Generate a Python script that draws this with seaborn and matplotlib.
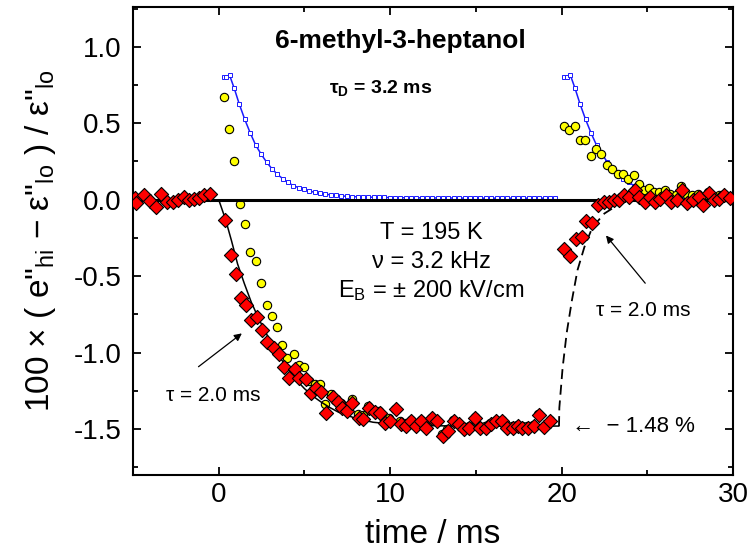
import numpy as np
import matplotlib
matplotlib.use("Agg")
import matplotlib.pyplot as plt
from matplotlib.ticker import MultipleLocator, FormatStrFormatter
import seaborn as sns

# ---- measured data -------------------------------------------------------
# red diamonds: field-on response (time in ms, 100 x relative change)
red_t = [-4.9, -4.8, -4.35, -4.0, -3.65, -3.35, -3.0, -2.65, -2.35, -2.05, -1.75, -1.45,
         -1.15, -0.85, -0.5,
         0.37, 0.69, 1.0, 1.3, 1.62, 1.9, 2.21, 2.53, 2.79, 3.2, 3.53, 3.82, 4.11, 4.46,
         4.7, 5.09, 5.38, 5.67, 5.96, 6.25, 6.64, 6.93, 7.22, 7.51, 7.8, 8.16, 8.43, 8.78,
         9.11, 9.4, 9.7, 10.0, 10.34, 10.63, 10.92, 11.21, 11.5, 11.8, 12.09, 12.42, 12.73,
         13.06, 13.35, 13.7, 13.99, 14.32, 14.62, 14.97, 15.24, 15.59, 15.88, 16.17, 16.52,
         16.79, 17.14, 17.43, 17.72, 18.02, 18.37, 18.7, 18.95, 19.32,
         20.16, 20.5, 20.84, 21.17, 21.45, 21.75, 22.15, 22.5, 22.78, 23.07, 23.37, 23.66,
         23.95, 24.28, 24.53, 24.88, 25.17, 25.47, 25.76, 26.09, 26.38, 26.73, 27.02, 27.31,
         27.64, 27.99, 28.26, 28.6, 28.9, 29.2, 29.5, 29.8]
red_y = [0.01, -0.02, 0.03, -0.01, -0.045, 0.035, -0.015, -0.015, 0.0, 0.015, 0.0, 0.005,
         0.01, 0.03, 0.035,
         -0.13, -0.36, -0.485, -0.643, -0.69, -0.785, -0.77, -0.852, -0.933, -0.97, -1.01,
         -1.097, -1.163, -1.107, -1.163, -1.173, -1.267, -1.228, -1.256, -1.392, -1.293,
         -1.32, -1.363, -1.38, -1.326, -1.425, -1.435, -1.359, -1.387, -1.392, -1.457,
         -1.446, -1.37, -1.468, -1.479, -1.446, -1.479, -1.446, -1.49, -1.43, -1.446,
         -1.545, -1.512, -1.446, -1.468, -1.5, -1.49, -1.425, -1.49, -1.49, -1.468, -1.446,
         -1.446, -1.49, -1.49, -1.479, -1.49, -1.49, -1.479, -1.407, -1.486, -1.446,
         -0.321, -0.365, -0.256, -0.245, -0.136, -0.151, -0.037, -0.015, -0.016, -0.005,
         0.0, 0.028, 0.017, 0.061, 0.017, -0.016, 0.017, -0.016, 0.006, 0.028, -0.016,
         -0.005, 0.066, -0.022, -0.005, 0.017, -0.037, 0.043, -0.005, 0.006, 0.028, 0.01]

# yellow circles: second data set
yel_t = [0.28, 0.61, 0.92, 1.24, 1.55, 1.84, 2.19, 2.46, 2.79, 3.1, 3.41, 3.72, 4.01, 4.37,
         4.66, 4.99, 5.28, 5.61, 5.9, 6.21, 6.55, 6.85, 7.15, 7.45, 7.75, 8.1, 8.4, 8.7,
         9.05, 9.35, 9.65, 9.95, 10.3, 10.6, 10.9, 11.2, 11.5, 11.8, 12.1, 12.4, 12.7, 13.0,
         13.3, 13.65, 13.95, 14.3, 14.6, 14.95, 15.2, 15.55, 15.85, 16.15, 16.5, 16.8, 17.1,
         17.4, 17.7, 18.0, 18.35, 18.65, 18.95, 19.3,
         20.16, 20.45, 20.78, 21.07, 21.38, 21.71, 22.02, 22.3, 22.65, 22.94, 23.27, 23.56,
         23.87, 24.2, 24.49, 24.8, 25.1, 25.4, 25.7, 26.03, 26.35, 26.65, 26.97, 27.3, 27.6,
         27.95, 28.25, 28.55, 28.85, 29.2, 29.5]
yel_y = [0.672, 0.463, 0.253, -0.026, -0.16, -0.345, -0.4, -0.546, -0.686, -0.76, -0.832,
         -0.95, -1.038, -1.007, -1.08, -1.097, -1.184, -1.206, -1.206, -1.337, -1.27, -1.3,
         -1.33, -1.36, -1.3, -1.4, -1.41, -1.35, -1.38, -1.38, -1.44, -1.43, -1.37, -1.45,
         -1.46, -1.44, -1.47, -1.44, -1.48, -1.43, -1.44, -1.53, -1.5, -1.44, -1.46, -1.49,
         -1.48, -1.42, -1.48, -1.48, -1.46, -1.44, -1.44, -1.48, -1.48, -1.47, -1.48, -1.48,
         -1.47, -1.4, -1.48, -1.44,
         0.48, 0.454, 0.482, 0.388, 0.388, 0.286, 0.33, 0.297, 0.229, 0.203, 0.17, 0.17,
         0.138, 0.159, 0.1, 0.066, 0.076, 0.05, 0.05, 0.066, 0.04, 0.03, 0.087, 0.03, 0.03,
         0.04, 0.02, 0.05, 0.02, 0.03, 0.04]

# blue open squares + line: response after each field step (time since step)
blue_dt = [0.28, 0.45, 0.63, 0.90, 1.20, 1.52, 1.84, 2.16, 2.48, 2.79, 3.10, 3.42, 3.73,
           4.04, 4.35, 4.66, 4.98, 5.29, 5.60, 5.91, 6.22, 6.54, 6.85, 7.16, 7.47, 7.78,
           8.10, 8.41, 8.72, 9.03, 9.34, 9.66, 9.97, 10.28, 10.59, 10.90, 11.22, 11.53,
           11.84, 12.15, 12.46, 12.78, 13.09, 13.40, 13.71, 14.02, 14.34, 14.65, 14.96,
           15.27, 15.58, 15.90, 16.21, 16.52, 16.83, 17.14, 17.46, 17.77, 18.08, 18.39,
           18.70, 19.02, 19.33, 19.64]
blue_y = [0.80, 0.80, 0.815, 0.73, 0.625, 0.525, 0.436, 0.356, 0.297, 0.246, 0.203, 0.166,
          0.138, 0.113, 0.092, 0.079, 0.068, 0.057, 0.048, 0.041, 0.036, 0.032, 0.028,
          0.025, 0.022, 0.020, 0.019, 0.018, 0.017, 0.016, 0.015, 0.015, 0.014, 0.014,
          0.013, 0.013, 0.013, 0.012, 0.012, 0.012, 0.012, 0.011, 0.011, 0.011, 0.011,
          0.011, 0.010, 0.010, 0.010, 0.010, 0.010, 0.010, 0.010, 0.010, 0.010, 0.010,
          0.010, 0.010, 0.010, 0.010, 0.010, 0.010, 0.010, 0.010]
step_times = [0.0, 19.88]

# fit curve (solid) and field-off recovery (dashed)
fit_t = [0.0, 0.4, 0.75, 1.1, 1.5, 1.9, 2.3, 2.7, 3.0, 3.5, 4.0, 4.5, 5.0, 5.5, 6.0, 6.5,
         7.0, 7.5, 8.0, 9.0, 10.0, 11.0, 12.0, 14.0, 19.85]
fit_y = [0.0, -0.13, -0.27, -0.42, -0.55, -0.67, -0.77, -0.86, -0.92, -1.02, -1.10, -1.175,
         -1.235, -1.285, -1.325, -1.36, -1.39, -1.41, -1.43, -1.455, -1.466, -1.473, -1.477,
         -1.48, -1.48]
rec_t = [19.85, 19.87, 20.06, 20.3, 20.6, 20.93, 21.33, 21.8, 22.5, 23.4, 24.1]
rec_y = [-1.48, -1.36, -1.10, -0.87, -0.66, -0.46, -0.31, -0.18, -0.09, -0.026, 0.0]

plateau = -1.48

# ---- styling -------------------------------------------------------------
sns.set_theme(style="ticks")
plt.rcParams["font.family"] = ["Liberation Sans", "DejaVu Sans"]
plt.rcParams["mathtext.fontset"] = "custom"
plt.rcParams["mathtext.rm"] = "Liberation Sans"
plt.rcParams["mathtext.it"] = "Liberation Sans:italic"
plt.rcParams["mathtext.bf"] = "Liberation Sans:bold"
plt.rcParams["axes.unicode_minus"] = False
for key in ["text.color", "axes.labelcolor", "xtick.color", "ytick.color",
            "axes.edgecolor"]:
    plt.rcParams[key] = "black"

fig = plt.figure(figsize=(7.48, 5.52), dpi=100)
ax = fig.add_axes([133 / 748, 77 / 552, 600 / 748, 468 / 552])

# blue curve for each field step
for t0 in step_times:
    sns.lineplot(x=[t0 + d for d in blue_dt], y=blue_y, ax=ax, color="#1a1aff",
                 lw=1.1, marker="s", markersize=2.8, markerfacecolor="white",
                 markeredgecolor="#1a1aff", markeredgewidth=0.7,
                 estimator=None, sort=False, zorder=1)

sns.scatterplot(x=yel_t, y=yel_y, ax=ax, marker="o", s=36, color="#ffff00",
                edgecolor="black", linewidth=0.8, zorder=2)

ax.axhline(0, color="black", lw=2.2, zorder=3)
sns.lineplot(x=fit_t, y=fit_y, ax=ax, color="black", lw=1.1,
             estimator=None, sort=False, zorder=3)
sns.lineplot(x=rec_t, y=rec_y, ax=ax, color="black", lw=1.3,
             linestyle=(0, (5.5, 3.2)), estimator=None, sort=False, zorder=3)

sns.scatterplot(x=red_t, y=red_y, ax=ax, marker="D", s=52, color="#ff0000",
                edgecolor="black", linewidth=0.8, zorder=4)

# ---- axes ---------------------------------------------------------------
ax.set_xlim(-5, 30)
ax.set_ylim(-1.8, 1.26)
ax.xaxis.set_major_locator(MultipleLocator(10))
ax.xaxis.set_minor_locator(MultipleLocator(5))
ax.yaxis.set_major_locator(MultipleLocator(0.5))
ax.yaxis.set_minor_locator(MultipleLocator(0.25))
ax.yaxis.set_major_formatter(FormatStrFormatter("%.1f"))
ax.tick_params(which="both", direction="in", top=True, right=True, width=1.3,
               colors="black")
ax.tick_params(which="major", length=6)
ax.tick_params(which="minor", length=3.5)
ax.tick_params(axis="x", which="major", labelsize=20, pad=5)
ax.tick_params(axis="y", which="major", labelsize=20, pad=8)
for sp in ax.spines.values():
    sp.set_linewidth(1.5)
    sp.set_color("black")

ax.set_xlabel("time / ms", fontsize=24, labelpad=8)
ax.set_ylabel('100 × ( e"$_{\\mathrm{hi}}$ − ε"$_{\\mathrm{lo}}$ ) / ε"$_{\\mathrm{lo}}$',
              fontsize=24)
ax.yaxis.set_label_coords(-0.125, 0.5)

# ---- annotations --------------------------------------------------------
ax.text(10.6, 1.037, "6-methyl-3-heptanol", ha="center", va="center",
        fontsize=19, fontweight="bold")
ax.text(9.43, 0.73, "τ$_{\\mathbf{D}}$ = 3.2 ms", ha="center", va="center",
        fontsize=14, fontweight="bold")

ax.text(12.4, -0.216, "T = 195 K", ha="center", va="center", fontsize=17)
ax.text(12.4, -0.409, "ν = 3.2 kHz", ha="center", va="center", fontsize=17)
ax.text(12.4, -0.594, "E$_{\\mathrm{B}}$ = ± 200 kV/cm", ha="center", va="center",
        fontsize=17)

arrow = dict(arrowstyle="-|>", color="black", lw=0.9, mutation_scale=11,
             shrinkA=0, shrinkB=0)
ax.annotate("", xy=(1.35, -0.874), xytext=(-1.18, -1.092), arrowprops=arrow)
ax.text(-0.32, -1.283, "τ = 2.0 ms", ha="center", va="center", fontsize=15)
ax.annotate("", xy=(22.59, -0.234), xytext=(24.88, -0.546), arrowprops=arrow)
ax.text(24.77, -0.726, "τ = 2.0 ms", ha="center", va="center", fontsize=15)

ax.text(20.6, plateau, "←  − 1.48 %", ha="left", va="center", fontsize=16)

fig.savefig("out.png", dpi=100)
